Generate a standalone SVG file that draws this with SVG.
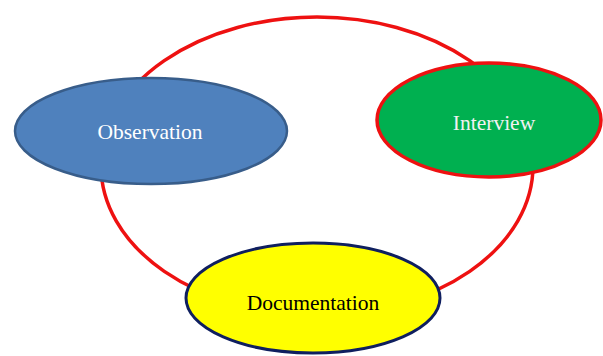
<svg xmlns="http://www.w3.org/2000/svg" width="603" height="356" viewBox="0 0 603 356">
  <style>
    .lbl { font-family: "Liberation Serif", "Times New Roman", serif; font-size: 21.5px; text-anchor: middle; }
    .cycle { fill: none; stroke: #EE1111; stroke-width: 3.5; }
  </style>
  <rect width="603" height="356" fill="#FFFFFF"/>
  <g id="connectors">
    <ellipse class="cycle" cx="317" cy="166" rx="216" ry="149"/>
  </g>
  <g id="observation">
    <ellipse cx="151" cy="131" rx="136" ry="53" fill="#4F81BD" stroke="#385D8A" stroke-width="2.5"/>
    <text class="lbl" x="150" y="139" fill="#FFFFFF">Observation</text>
  </g>
  <g id="interview">
    <ellipse cx="489" cy="120" rx="112" ry="57" fill="#00B050" stroke="#EE1111" stroke-width="3.5"/>
    <text class="lbl" x="494" y="130" fill="#F2F2F2">Interview</text>
  </g>
  <g id="documentation">
    <ellipse cx="313" cy="298" rx="127" ry="55" fill="#FFFF00" stroke="#0F1F5F" stroke-width="3"/>
    <text class="lbl" x="313" y="310" fill="#000000">Documentation</text>
  </g>
</svg>
